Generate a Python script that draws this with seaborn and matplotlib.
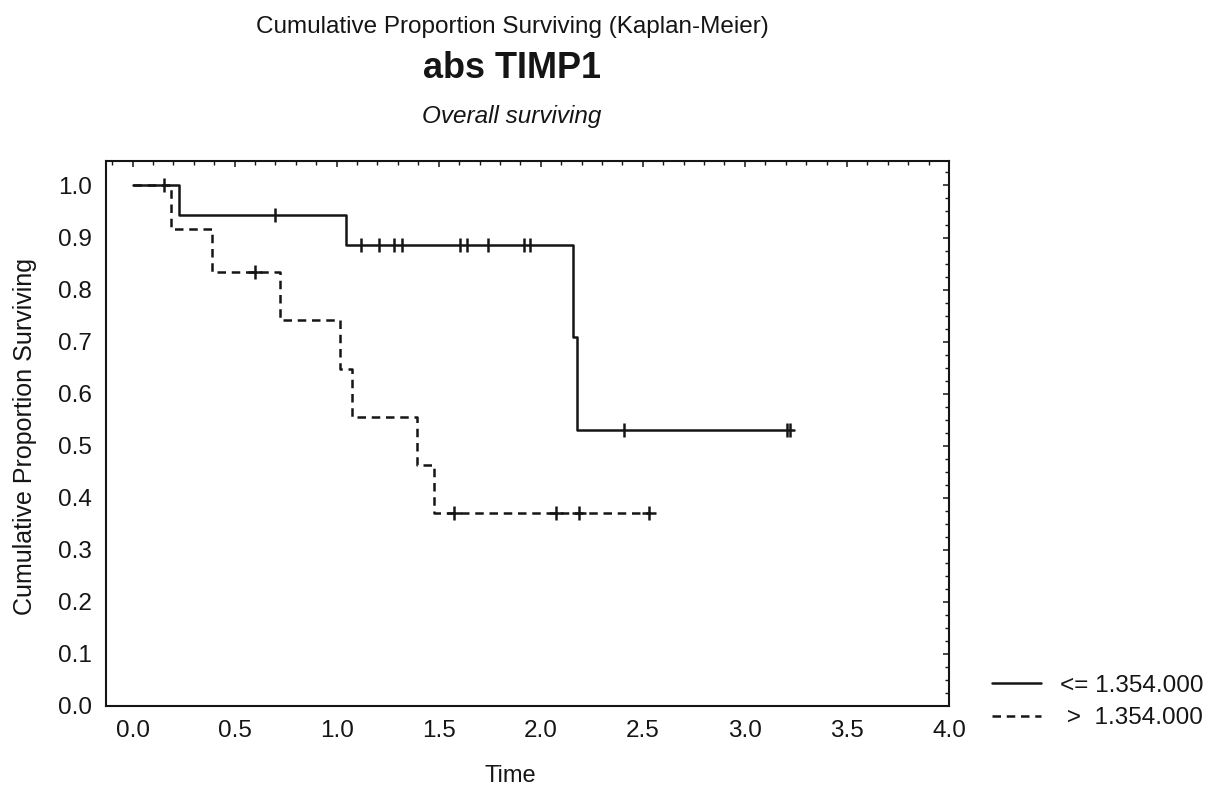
import numpy as np
import pandas as pd
import matplotlib
matplotlib.use("Agg")
import matplotlib.pyplot as plt
import seaborn as sns
from matplotlib.ticker import MultipleLocator, FormatStrFormatter

# ---- data ----
group_labels = ["<= 1.354.000", " >  1.354.000"]

low_times = [0.0, 0.23, 1.044, 2.158, 2.176, 3.24]
low_surv = [1.0, 0.944, 0.885, 0.708, 0.531, 0.531]
low_censor = [0.153, 0.70, 1.118, 1.207, 1.281, 1.322, 1.605, 1.637,
              1.742, 1.918, 1.948, 2.409, 3.206, 3.222]

high_times = [0.0, 0.19, 0.39, 0.722, 1.016, 1.074, 1.392, 1.477, 2.531]
high_surv = [1.0, 0.917, 0.833, 0.741, 0.648, 0.556, 0.463, 0.370, 0.370]
high_censor = [0.60, 1.575, 2.074, 2.188, 2.531]

x_ticks = [0.0, 0.5, 1.0, 1.5, 2.0, 2.5, 3.0, 3.5, 4.0]
y_ticks = [0.0, 0.1, 0.2, 0.3, 0.4, 0.5, 0.6, 0.7, 0.8, 0.9, 1.0]


def step_value(times, surv, t):
    idx = np.searchsorted(np.asarray(times), t, side="right") - 1
    return float(np.asarray(surv)[idx])


sns.set_theme(style="white")
plt.rcParams["font.family"] = ["Liberation Sans", "DejaVu Sans"]

fig = plt.figure(figsize=(12.07, 7.85), dpi=100)
ax = fig.add_axes([106 / 1207, 1 - 706 / 785, (949 - 106) / 1207, (706 - 161) / 785])

ink = "#151515"
df_low = pd.DataFrame({"Time": low_times, "S": low_surv})
df_high = pd.DataFrame({"Time": high_times, "S": high_surv})

sns.lineplot(data=df_low, x="Time", y="S", ax=ax, estimator=None, sort=False,
             drawstyle="steps-post", color=ink, linewidth=1.8, label=group_labels[0])
sns.lineplot(data=df_high, x="Time", y="S", ax=ax, estimator=None, sort=False,
             drawstyle="steps-post", color=ink, linewidth=1.8,
             linestyle=(0, (3.4, 2.3)), label=group_labels[1])

cl = pd.DataFrame({"Time": low_censor,
                   "S": [step_value(low_times, low_surv, c) for c in low_censor]})
ch = pd.DataFrame({"Time": high_censor,
                   "S": [step_value(high_times, high_surv, c) for c in high_censor]})
sns.scatterplot(data=cl, x="Time", y="S", ax=ax, marker="|", s=110,
                color=ink, linewidth=1.8, legend=False, zorder=5)
sns.scatterplot(data=ch, x="Time", y="S", ax=ax, marker="+", s=110,
                color=ink, linewidth=1.8, legend=False, zorder=5)

ax.set_xlim(-0.13, 4.0)
ax.set_ylim(0.0, 1.047)
ax.set_xticks(x_ticks)
ax.set_yticks(y_ticks)
ax.xaxis.set_major_formatter(FormatStrFormatter("%.1f"))
ax.yaxis.set_major_formatter(FormatStrFormatter("%.1f"))
ax.xaxis.set_minor_locator(MultipleLocator(0.1))
ax.yaxis.set_minor_locator(MultipleLocator(0.025))
ax.tick_params(which="both", direction="in", top=True, right=True, color=ink)
ax.tick_params(which="major", length=4, width=1.1, labelsize=17.5, pad=10, labelcolor=ink)
ax.tick_params(which="minor", length=3, width=1.0)
for s in ax.spines.values():
    s.set_color(ink)
    s.set_linewidth(1.5)

ax.set_xlabel("Time", fontsize=17, color=ink)
ax.set_ylabel("Cumulative Proportion Surviving", fontsize=18, color=ink)
ax.xaxis.set_label_coords(0.48, -0.108)
ax.yaxis.set_label_coords(-0.082, 0.495)

handles, labels = ax.get_legend_handles_labels()
leg = ax.legend(handles[:2], labels[:2], loc="center left",
                bbox_to_anchor=(992 / 1207, 1 - 702 / 785),
                bbox_transform=fig.transFigure, frameon=False, fontsize=17.5,
                handlelength=2.0, handletextpad=0.8, labelspacing=0.45,
                borderpad=0, borderaxespad=0)
for t in leg.get_texts():
    t.set_color(ink)

fig.text(512 / 1207, 1 - 27 / 785, "Cumulative Proportion Surviving (Kaplan-Meier)",
         ha="center", va="center", fontsize=17.5, color=ink)
fig.text(512 / 1207, 1 - 68 / 785, "abs TIMP1", ha="center", va="center",
         fontsize=26, fontweight="bold", color=ink)
fig.text(512 / 1207, 1 - 117 / 785, "Overall surviving", ha="center", va="center",
         fontsize=17.5, fontstyle="italic", color=ink)

fig.savefig("out.png", dpi=100, facecolor="white")
